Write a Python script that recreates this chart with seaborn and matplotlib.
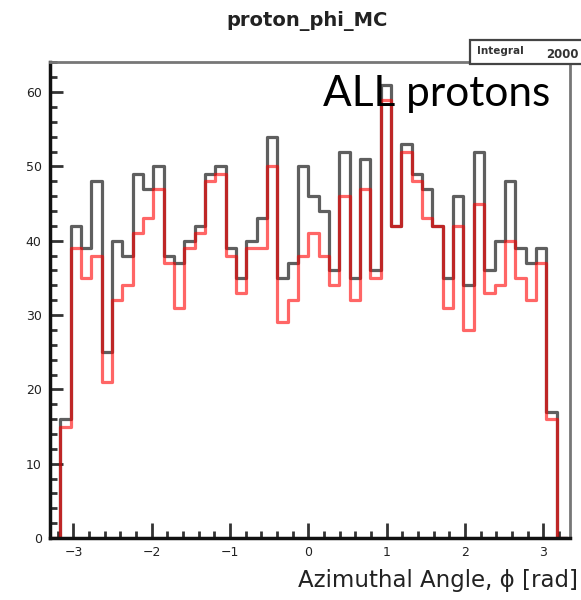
import numpy as np
import pandas as pd
import seaborn as sns
import matplotlib
matplotlib.use("Agg")
import matplotlib.pyplot as plt
from matplotlib.patches import Rectangle
from matplotlib.ticker import MultipleLocator

# ---- data (50 bins from -3.3 to 3.3) ----
bin_lo, bin_hi, n_bins = -3.3, 3.3, 50
all_counts = [0, 16, 42, 39, 48, 25, 40, 38, 49, 47,
              50, 38, 37, 40, 42, 49, 50, 39, 35, 40,
              43, 54, 35, 37, 50, 46, 44, 36, 52, 35,
              51, 36, 61, 42, 53, 49, 47, 42, 35, 46,
              34, 52, 36, 40, 48, 39, 37, 39, 17, 0]
sel_counts = [0, 15, 39, 35, 38, 21, 32, 34, 41, 43,
              47, 37, 31, 39, 41, 48, 49, 38, 33, 39,
              39, 50, 29, 32, 38, 41, 38, 34, 46, 32,
              47, 35, 59, 42, 52, 48, 43, 42, 31, 42,
              28, 45, 33, 34, 40, 35, 32, 37, 16, 0]
x_ticks = [-3, -2, -1, 0, 1, 2, 3]
y_ticks = [0, 10, 20, 30, 40, 50, 60]

edges = np.linspace(bin_lo, bin_hi, n_bins + 1)
centers = 0.5 * (edges[:-1] + edges[1:])
df = pd.DataFrame({"phi": centers, "all": all_counts, "sel": sel_counts})

sns.set_style("ticks")
plt.rcParams["font.family"] = ["DejaVu Sans"]

W, H = 581, 600
fig = plt.figure(figsize=(W / 100, H / 100), dpi=100)
ax = fig.add_axes([50 / W, 1 - 538 / H, (570 - 50) / W, (538 - 62) / H])

sns.histplot(data=df, x="phi", weights="all", bins=n_bins, binrange=(bin_lo, bin_hi),
             element="step", fill=False, color="#222222", alpha=0.72,
             linewidth=2.3, ax=ax)
sns.histplot(data=df, x="phi", weights="sel", bins=n_bins, binrange=(bin_lo, bin_hi),
             element="step", fill=False, color="#ff0000", alpha=0.6,
             linewidth=2.3, ax=ax)

ax.set_xlim(-3.3, 3.34)
ax.set_ylim(0, 64.05)
ax.set_xticks(x_ticks)
ax.set_xticklabels([("\u2212%d" % -t) if t < 0 else str(t) for t in x_ticks])
ax.set_yticks(y_ticks)
ax.xaxis.set_minor_locator(MultipleLocator(0.2))
ax.yaxis.set_minor_locator(MultipleLocator(2))
ax.tick_params(axis="x", which="major", direction="in", length=11, width=2,
               color="#333333", labelsize=9, labelcolor="#222222", pad=6, top=False)
ax.tick_params(axis="x", which="minor", direction="in", length=5, width=2,
               color="#333333", top=False)
ax.tick_params(axis="y", which="major", direction="in", length=9, width=2,
               color="#333333", labelsize=9, labelcolor="#222222", pad=6, right=False)
ax.tick_params(axis="y", which="minor", direction="in", length=5, width=2,
               color="#333333", right=False)
for s in ["left", "bottom"]:
    ax.spines[s].set_color("#111111")
    ax.spines[s].set_linewidth(2.5)
for s in ["top", "right"]:
    ax.spines[s].set_visible(True)
    ax.spines[s].set_color("#777777")
    ax.spines[s].set_linewidth(2)
ax.set_xlabel("")
ax.set_ylabel("")

# title
fig.text(307 / W, 1 - 21 / H, "proton_phi_MC", ha="center", va="center",
         fontsize=14, fontweight="bold", color="#222222")
# x label
fig.text(578 / W, 1 - 580 / H, "Azimuthal Angle, \u03d5 [rad]", ha="right",
         va="center", fontsize=16.5, color="#222222")
# overlay text
fig.text(323 / W, 1 - 106 / H, "ALL protons", ha="left", va="baseline",
         fontsize=30.5, family=["Lato", "DejaVu Sans"], color="black")
# stats box
box = Rectangle((470 / W, 1 - 64 / H), 130 / W, 24 / H, transform=fig.transFigure,
                facecolor="white", edgecolor="#444444", linewidth=1.6, zorder=5)
fig.add_artist(box)
fig.text(477 / W, 1 - 51 / H, "Integral", ha="left", va="center", fontsize=7.5,
         fontweight="bold", color="#333333", zorder=6)
fig.text(546 / W, 1 - 55 / H, "2000", ha="left", va="center", fontsize=8.5,
         fontweight="bold", color="#333333", zorder=6)

fig.savefig("out.png", dpi=100)
